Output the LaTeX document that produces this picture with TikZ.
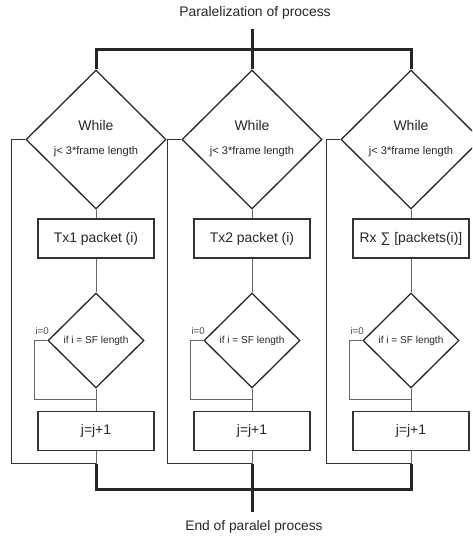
\documentclass[tikz,border=0pt]{standalone}
\usepackage{fontspec}
\setmainfont{Liberation Sans}
\usetikzlibrary{shapes.geometric}
\begin{document}
\begin{tikzpicture}[x=1pt,y=-1pt,
  txt/.style={inner sep=0, text=black!85},
  bigdia/.style={draw=black!85, line width=1.3pt, shape=diamond, minimum width=140pt, minimum height=139pt, inner sep=0},
  smalldia/.style={draw=black!85, line width=1.3pt, shape=diamond, minimum width=96pt, minimum height=95pt, inner sep=0},
  stepbox/.style={draw=black!80, line width=1.1pt, minimum width=116pt, minimum height=39pt, inner sep=0, font=\fontsize{13.9}{16}\selectfont, text=black!85},
  thickline/.style={line width=3pt, draw=black!85},
  loopline/.style={line width=1.5pt, draw=black!80},
  conn/.style={line width=1pt, draw=black!60},
]
\clip (0,0) rectangle (472,537);
\node[txt, font=\fontsize{13.9}{16}\selectfont] (title) at (255,13) {Paralelization of process};
\node[txt, font=\fontsize{13.8}{16}\selectfont] (endt) at (254,527) {End of paralel process};
\coordinate (top) at (252,29);
\coordinate (split) at (252,50);
\coordinate (bot) at (252,512);
\coordinate (join) at (252,489);
\foreach \n/\x/\lab in {1/96/{Tx1 packet (i)},2/252/{Tx2 packet (i)},3/411/{Rx \char"2211\ [packets(i)]}}{
  \node[bigdia] (d\n) at (\x,139.5) {};
  \node[txt, font=\fontsize{14}{16}\selectfont] (w\n) at (\x,125) {While};
  \node[txt, font=\fontsize{11.1}{13}\selectfont] (c\n) at (\x,152) {j< 3*frame length};
  \node[stepbox] (b\n) at (\x,238.5) {\lab};
  \node[smalldia] (s\n) at (\x,340.5) {};
  \node[txt, font=\fontsize{10.1}{12}\selectfont] at (\x,341) {if i = SF length};
  \node[stepbox] (j\n) at (\x,431) {j=j+1};
  \coordinate (m\n) at (\x,399);
  \coordinate (e\n) at (\x,463.5);
  \node[txt, font=\fontsize{9.8}{12}\selectfont, anchor=west, text=black!70] (z\n) at ([xshift=-12pt,yshift=10pt]s\n.west) {i=0};
  \draw[conn] (d\n.south) -- (b\n.north);
  \draw[conn] (b\n.south) -- (s\n.north);
  \draw[conn] (s\n.south) -- (j\n.north);
  \draw[conn] (s\n.west) -- ++(-13,0) |- (m\n);
  \draw[conn] (j\n.south) -- (e\n);
  \draw[loopline] (d\n.west) -- ++(-14,0) |- (e\n);
}
\draw[thickline] (top) -- (d2.north);
\draw[thickline] (d1.north) -- (d1.north |- split) -- (d3.north |- split) -- (d3.north);
\draw[thickline] (e1) -- (e1 |- join) -- (e3 |- join) -- (e3);
\draw[thickline] (e2) -- (bot);
\end{tikzpicture}
\end{document}
